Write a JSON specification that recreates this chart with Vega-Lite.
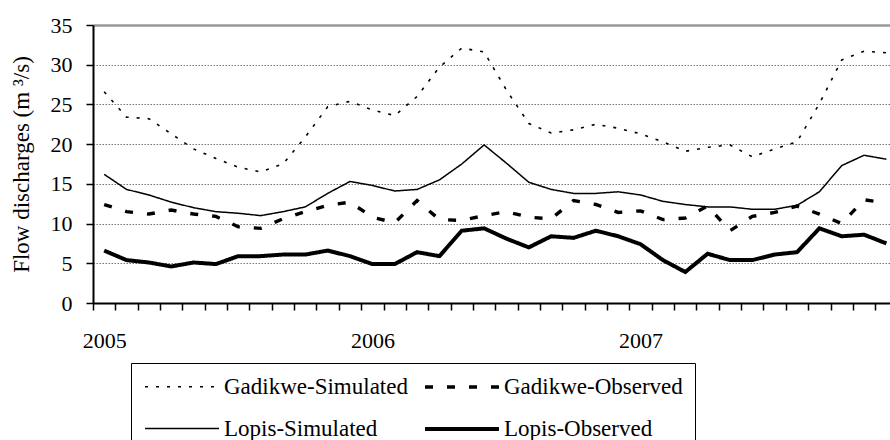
{
  "$schema": "https://vega.github.io/schema/vega-lite/v6.json",
  "autosize": {"type": "none"},
  "padding": {"left": 93, "top": 25, "right": 0, "bottom": 137},
  "width": 797,
  "height": 278,
  "background": "white",
  "data": {
    "values": [
      {"t": 0, "month": "2005-01", "Gadikwe-Simulated": 26.6, "Gadikwe-Observed": 12.4, "Lopis-Simulated": 16.2, "Lopis-Observed": 6.6},
      {"t": 1, "month": "2005-02", "Gadikwe-Simulated": 23.4, "Gadikwe-Observed": 11.5, "Lopis-Simulated": 14.3, "Lopis-Observed": 5.4},
      {"t": 2, "month": "2005-03", "Gadikwe-Simulated": 23.2, "Gadikwe-Observed": 11.2, "Lopis-Simulated": 13.6, "Lopis-Observed": 5.1},
      {"t": 3, "month": "2005-04", "Gadikwe-Simulated": 21.3, "Gadikwe-Observed": 11.7, "Lopis-Simulated": 12.7, "Lopis-Observed": 4.6},
      {"t": 4, "month": "2005-05", "Gadikwe-Simulated": 19.4, "Gadikwe-Observed": 11.2, "Lopis-Simulated": 12.0, "Lopis-Observed": 5.1},
      {"t": 5, "month": "2005-06", "Gadikwe-Simulated": 18.2, "Gadikwe-Observed": 10.9, "Lopis-Simulated": 11.5, "Lopis-Observed": 4.9},
      {"t": 6, "month": "2005-07", "Gadikwe-Simulated": 17.1, "Gadikwe-Observed": 9.6, "Lopis-Simulated": 11.3, "Lopis-Observed": 5.9},
      {"t": 7, "month": "2005-08", "Gadikwe-Simulated": 16.5, "Gadikwe-Observed": 9.4, "Lopis-Simulated": 11.0, "Lopis-Observed": 5.9},
      {"t": 8, "month": "2005-09", "Gadikwe-Simulated": 17.5, "Gadikwe-Observed": 10.6, "Lopis-Simulated": 11.5, "Lopis-Observed": 6.1},
      {"t": 9, "month": "2005-10", "Gadikwe-Simulated": 20.9, "Gadikwe-Observed": 11.5, "Lopis-Simulated": 12.1, "Lopis-Observed": 6.1},
      {"t": 10, "month": "2005-11", "Gadikwe-Simulated": 24.7, "Gadikwe-Observed": 12.3, "Lopis-Simulated": 13.8, "Lopis-Observed": 6.6},
      {"t": 11, "month": "2005-12", "Gadikwe-Simulated": 25.4, "Gadikwe-Observed": 12.7, "Lopis-Simulated": 15.3, "Lopis-Observed": 5.9},
      {"t": 12, "month": "2006-01", "Gadikwe-Simulated": 24.3, "Gadikwe-Observed": 10.8, "Lopis-Simulated": 14.8, "Lopis-Observed": 4.9},
      {"t": 13, "month": "2006-02", "Gadikwe-Simulated": 23.6, "Gadikwe-Observed": 10.1, "Lopis-Simulated": 14.1, "Lopis-Observed": 4.9},
      {"t": 14, "month": "2006-03", "Gadikwe-Simulated": 26.0, "Gadikwe-Observed": 12.9, "Lopis-Simulated": 14.3, "Lopis-Observed": 6.4},
      {"t": 15, "month": "2006-04", "Gadikwe-Simulated": 29.7, "Gadikwe-Observed": 10.5, "Lopis-Simulated": 15.5, "Lopis-Observed": 5.9},
      {"t": 16, "month": "2006-05", "Gadikwe-Simulated": 32.1, "Gadikwe-Observed": 10.4, "Lopis-Simulated": 17.5, "Lopis-Observed": 9.1},
      {"t": 17, "month": "2006-06", "Gadikwe-Simulated": 31.6, "Gadikwe-Observed": 11.0, "Lopis-Simulated": 19.9, "Lopis-Observed": 9.4},
      {"t": 18, "month": "2006-07", "Gadikwe-Simulated": 26.8, "Gadikwe-Observed": 11.5, "Lopis-Simulated": 17.6, "Lopis-Observed": 8.1},
      {"t": 19, "month": "2006-08", "Gadikwe-Simulated": 22.6, "Gadikwe-Observed": 10.8, "Lopis-Simulated": 15.2, "Lopis-Observed": 7.0},
      {"t": 20, "month": "2006-09", "Gadikwe-Simulated": 21.4, "Gadikwe-Observed": 10.6, "Lopis-Simulated": 14.3, "Lopis-Observed": 8.4},
      {"t": 21, "month": "2006-10", "Gadikwe-Simulated": 21.8, "Gadikwe-Observed": 12.9, "Lopis-Simulated": 13.8, "Lopis-Observed": 8.2},
      {"t": 22, "month": "2006-11", "Gadikwe-Simulated": 22.5, "Gadikwe-Observed": 12.4, "Lopis-Simulated": 13.8, "Lopis-Observed": 9.1},
      {"t": 23, "month": "2006-12", "Gadikwe-Simulated": 22.0, "Gadikwe-Observed": 11.4, "Lopis-Simulated": 14.0, "Lopis-Observed": 8.4},
      {"t": 24, "month": "2007-01", "Gadikwe-Simulated": 21.3, "Gadikwe-Observed": 11.6, "Lopis-Simulated": 13.6, "Lopis-Observed": 7.4},
      {"t": 25, "month": "2007-02", "Gadikwe-Simulated": 20.3, "Gadikwe-Observed": 10.5, "Lopis-Simulated": 12.8, "Lopis-Observed": 5.4},
      {"t": 26, "month": "2007-03", "Gadikwe-Simulated": 19.1, "Gadikwe-Observed": 10.7, "Lopis-Simulated": 12.4, "Lopis-Observed": 3.9},
      {"t": 27, "month": "2007-04", "Gadikwe-Simulated": 19.6, "Gadikwe-Observed": 12.2, "Lopis-Simulated": 12.1, "Lopis-Observed": 6.2},
      {"t": 28, "month": "2007-05", "Gadikwe-Simulated": 19.9, "Gadikwe-Observed": 9.1, "Lopis-Simulated": 12.1, "Lopis-Observed": 5.4},
      {"t": 29, "month": "2007-06", "Gadikwe-Simulated": 18.4, "Gadikwe-Observed": 10.9, "Lopis-Simulated": 11.8, "Lopis-Observed": 5.4},
      {"t": 30, "month": "2007-07", "Gadikwe-Simulated": 19.4, "Gadikwe-Observed": 11.4, "Lopis-Simulated": 11.8, "Lopis-Observed": 6.1},
      {"t": 31, "month": "2007-08", "Gadikwe-Simulated": 20.3, "Gadikwe-Observed": 12.2, "Lopis-Simulated": 12.3, "Lopis-Observed": 6.4},
      {"t": 32, "month": "2007-09", "Gadikwe-Simulated": 25.1, "Gadikwe-Observed": 11.2, "Lopis-Simulated": 14.0, "Lopis-Observed": 9.4},
      {"t": 33, "month": "2007-10", "Gadikwe-Simulated": 30.6, "Gadikwe-Observed": 10.0, "Lopis-Simulated": 17.3, "Lopis-Observed": 8.4},
      {"t": 34, "month": "2007-11", "Gadikwe-Simulated": 31.7, "Gadikwe-Observed": 13.0, "Lopis-Simulated": 18.6, "Lopis-Observed": 8.6},
      {"t": 35, "month": "2007-12", "Gadikwe-Simulated": 31.5, "Gadikwe-Observed": 12.6, "Lopis-Simulated": 18.1, "Lopis-Observed": 7.5}
    ]
  },
  "transform": [
    {"fold": ["Gadikwe-Simulated", "Gadikwe-Observed", "Lopis-Simulated", "Lopis-Observed"], "as": ["series", "value"]}
  ],
  "mark": {"type": "line", "clip": true, "strokeCap": "butt", "strokeJoin": "miter"},
  "encoding": {
    "x": {
      "field": "t",
      "type": "quantitative",
      "scale": {"domain": [-0.5, 35.16], "nice": false, "zero": false},
      "axis": {
        "title": null,
        "values": [-0.5, 0.5, 1.5, 2.5, 3.5, 4.5, 5.5, 6.5, 7.5, 8.5, 9.5, 10.5, 11.5, 12.5, 13.5, 14.5, 15.5, 16.5, 17.5, 18.5, 19.5, 20.5, 21.5, 22.5, 23.5, 24.5, 25.5, 26.5, 27.5, 28.5, 29.5, 30.5, 31.5, 32.5, 33.5, 34.5],
        "labelExpr": "datum.value == -0.5 ? '2005' : datum.value == 11.5 ? '2006' : datum.value == 23.5 ? '2007' : ''",
        "labelOffset": 11.2,
        "labelAlign": "center",
        "labelFlush": false,
        "labelOverlap": false,
        "labelBound": false,
        "labelPadding": 20,
        "grid": false,
        "tickSize": 7,
        "tickWidth": 1.5,
        "domainWidth": 2
      }
    },
    "y": {
      "field": "value",
      "type": "quantitative",
      "scale": {"domain": [0, 35], "nice": false},
      "axis": {
        "title": "Flow discharges (m ³/s)",
        "values": [0, 5, 10, 15, 20, 25, 30, 35],
        "grid": true,
        "gridColor": {"condition": {"test": "datum.value == 35", "value": "#999999"}, "value": "#777777"},
        "gridDash": {"condition": {"test": "datum.value == 35", "value": []}, "value": [1.5, 1.5]},
        "gridWidth": {"condition": {"test": "datum.value == 35", "value": 2.5}, "value": 1},
        "tickSize": 7,
        "tickWidth": 1.5,
        "domainWidth": 2,
        "labelPadding": 14,
        "titlePadding": 17,
        "titleFontSize": 23
      }
    },
    "color": {
      "field": "series",
      "type": "nominal",
      "scale": {"domain": ["Gadikwe-Simulated", "Gadikwe-Observed", "Lopis-Simulated", "Lopis-Observed"], "range": ["black", "black", "black", "black"]},
      "legend": {"title": null}
    },
    "strokeDash": {
      "field": "series",
      "type": "nominal",
      "scale": {"domain": ["Gadikwe-Simulated", "Gadikwe-Observed", "Lopis-Simulated", "Lopis-Observed"], "range": [[3, 8], [8, 14], [1, 0], [1, 0]]},
      "legend": {"title": null}
    },
    "strokeWidth": {
      "field": "series",
      "type": "nominal",
      "scale": {"type": "ordinal", "domain": ["Gadikwe-Simulated", "Gadikwe-Observed", "Lopis-Simulated", "Lopis-Observed"], "range": [1.6, 3.4, 1.5, 4]},
      "legend": {"title": null}
    }
  },
  "config": {
    "font": "Liberation Serif",
    "view": {"stroke": null},
    "axis": {
      "domainColor": "black",
      "tickColor": "black",
      "labelColor": "black",
      "labelFont": "Liberation Serif",
      "labelFontSize": 22,
      "titleFont": "Liberation Serif",
      "titleFontSize": 22,
      "titleFontWeight": "normal",
      "titleColor": "black"
    },
    "legend": {
      "orient": "none",
      "legendX": 38,
      "legendY": 338,
      "columns": 2,
      "direction": "horizontal",
      "strokeColor": "black",
      "fillColor": "white",
      "padding": 12,
      "symbolType": "M -3.7 0 L 3.7 0",
      "symbolSize": 400,
      "symbolOffset": 27,
      "symbolStrokeColor": "black",
      "symbolFillColor": "transparent",
      "labelFont": "Liberation Serif",
      "labelFontSize": 23,
      "labelColor": "black",
      "labelLimit": 400,
      "labelOffset": 30,
      "rowPadding": 18,
      "columnPadding": 9
    }
  }
}
